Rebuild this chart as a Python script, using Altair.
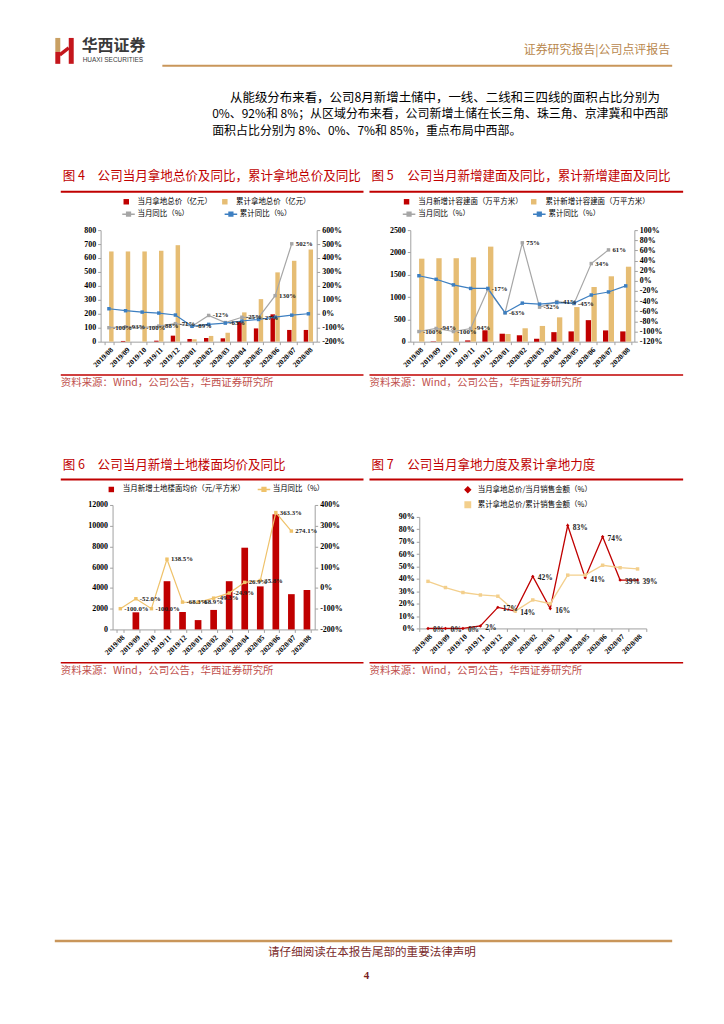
import altair as alt
import pandas as pd

CJK = "Noto Sans CJK SC"
NUMF = "Liberation Serif"
AXC = "#a0a0a0"
RED = "#c00000"
TAN = "#e6bd74"
GRAY = "#a6a6a6"
BLUE = "#3d7fc1"
F6LINE = "#efc26a"
F7TAN = "#f3cf8c"
TITLE_RED = "#c00000"
SRC_RED = "#c0504d"
GOLD = "#c9965a"

months = ["2019/08", "2019/09", "2019/10", "2019/11", "2019/12", "2020/01", "2020/02",
          "2020/03", "2020/04", "2020/05", "2020/06", "2020/07", "2020/08"]

# ---- Figure 4 ----
f4_bar_names = ["当月拿地总价（亿元）", "累计拿地总价（亿元）"]
f4_line_names = ["当月同比（%）", "累计同比（%）"]
f4_month_total = [0, 5, 0, 7, 43, 19, 26, 24, 143, 95, 196, 84, 84]
f4_cum_total = [647, 647, 647, 652, 692, 17, 41, 64, 210, 305, 497, 580, 661]
f4_month_yoy = [-100, -93, -100, -88, -71, -89, -12, -63, -25, -27, 130, 502, None]
f4_cum_yoy = [36, 22, 12, 5, -9, -90, -76, -67, -52, -41, -24, -10, 0]
f4_left_ticks = [0, 100, 200, 300, 400, 500, 600, 700, 800]
f4_right_ticks = [-200, -100, 0, 100, 200, 300, 400, 500, 600]

# ---- Figure 5 ----
f5_bar_names = ["当月新增计容建面（万平方米）", "累计新增计容建面（万平方米）"]
f5_line_names = ["当月同比（%）", "累计同比（%）"]
f5_month_area = [0, 8, 0, 28, 255, 178, 143, 67, 213, 230, 482, 252, 230]
f5_cum_area = [1860, 1870, 1870, 1890, 2130, 172, 300, 352, 545, 775, 1225, 1465, 1680]
f5_month_yoy = [-100, -94, -100, -94, -17, -63, 75, -52, -41, -45, 34, 61, None]
f5_cum_yoy = [10, 3, -8, -15, -15, -63, -44, -46, -43, -44, -28, -22, -10]
f5_left_ticks = [0, 500, 1000, 1500, 2000, 2500]
f5_right_ticks = [-120, -100, -80, -60, -40, -20, 0, 20, 40, 60, 80, 100]

# ---- Figure 6 ----
f6_bar_names = ["当月新增土地楼面均价（元/平方米）"]
f6_line_names = ["当月同比（%）"]
f6_price = [0, 1650, 0, 4650, 1680, 900, 1880, 4650, 7880, 4150, 11100, 3400, 3800]
f6_yoy = [-100.0, -52.0, -100.0, 138.5, -68.3, -68.9, -49.3, -24.9, 26.9, 35.8, 363.3, 274.1, None]
f6_left_ticks = [0, 2000, 4000, 6000, 8000, 10000, 12000]
f6_right_ticks = [-200, -100, 0, 100, 200, 300, 400]

# ---- Figure 7 ----
f7_line_names = ["当月拿地总价/当月销售金额（%）", "累计拿地总价/累计销售金额（%）"]
f7_month = [0, 0, 0, 2, 17, 14, 42, 16, 83, 41, 74, 39, 39]
f7_cum = [38, 33, 29, 27, 26, 14, 23, 20, 43, 43, 51, 49, 48]
f7_ticks = [0, 10, 20, 30, 40, 50, 60, 70, 80, 90]

LINE_SQ = "M-2.3,0H2.3M-0.7,-0.7H0.7V0.7H-0.7Z"


def long_df(names, series_list):
    rows = []
    for name, vals in zip(names, series_list):
        for m, v in zip(months, vals):
            rows.append({"month": m, "series": name, "value": v})
    return pd.DataFrame(rows)


def make_legend(lx, ly, cols, colpad, loff, line):
    return alt.Legend(
        orient="none", legendX=lx, legendY=ly, columns=cols, title=None,
        labelFont=CJK, labelFontSize=7.5, labelColor="#000000", symbolSize=30,
        symbolType=LINE_SQ if line else "square",
        symbolStrokeWidth=1.4 if line else 0,
        labelOffset=loff, columnPadding=colpad, rowPadding=3,
    )


def xenc(p_inner):
    return alt.X(
        "month:N", sort=months, title=None,
        scale=alt.Scale(type="band", paddingInner=p_inner, paddingOuter=p_inner / 2),
        axis=alt.Axis(labelAngle=-45, labelFont=NUMF, labelFontSize=7.5, labelFontWeight="bold",
                      labelColor="#000000", tickBand="extent", domainColor=AXC, tickColor=AXC,
                      tickSize=3, labelPadding=1, labelOverlap=False),
    )


def yaxis(orient, ticks, pct):
    kw = dict(orient=orient, values=ticks, labelFont=NUMF, labelFontSize=8, labelFontWeight="bold",
              labelColor="#000000", domainColor=AXC, tickColor=AXC, tickSize=3, labelPadding=2,
              grid=False, title=None, labelOverlap=False)
    if pct:
        kw["labelExpr"] = "datum.value + '%'"
    else:
        kw["format"] = "d"
    return alt.Axis(**kw)


def bar_line_fig(bar_names, bar_series, bar_colors, line_names, line_series, line_colors,
                 label_vals, label_fmt, lticks, rticks, width, height, pinner, off_pad,
                 bar_leg, line_leg):
    x = xenc(pinner)
    yl = alt.Y("value:Q", scale=alt.Scale(domain=[lticks[0], lticks[-1]], nice=False, zero=False),
               axis=yaxis("left", lticks, False))
    yr = alt.Y("value:Q", scale=alt.Scale(domain=[rticks[0], rticks[-1]], nice=False, zero=False),
               axis=yaxis("right", rticks, True))
    enc = dict(x=x, y=yl, fill=alt.Fill("series:N", scale=alt.Scale(domain=bar_names, range=bar_colors),
                                        legend=bar_leg))
    if len(bar_names) > 1:
        enc["xOffset"] = alt.XOffset("series:N", sort=bar_names, scale=alt.Scale(paddingInner=off_pad))
    bars = alt.Chart(long_df(bar_names, bar_series)).mark_bar().encode(**enc)
    lines = alt.Chart(long_df(line_names, line_series)).mark_line(
        strokeWidth=1.2, point=alt.OverlayMarkDef(shape="square", size=12, filled=True)
    ).encode(x=x, y=yr, color=alt.Color("series:N", scale=alt.Scale(domain=line_names, range=line_colors),
                                        legend=line_leg))
    lab = pd.DataFrame({"month": months, "value": label_vals})
    lab = lab.dropna()
    lab["label"] = [label_fmt.format(v) for v in lab["value"]]
    labels = alt.Chart(lab).mark_text(
        align="left", baseline="middle", dx=4, font=NUMF, fontSize=6.8, fontWeight="bold", color="#222222"
    ).encode(x=x, y=yr, text="label:N")
    return alt.layer(bars, alt.layer(lines, labels)).resolve_scale(y="independent").properties(
        width=width, height=height)


fig4 = bar_line_fig(f4_bar_names, [f4_month_total, f4_cum_total], [RED, TAN],
                    f4_line_names, [f4_month_yoy, f4_cum_yoy], [GRAY, BLUE],
                    f4_month_yoy, "{:.0f}%", f4_left_ticks, f4_right_ticks,
                    217, 112, 0.44, 0.08,
                    make_legend(22, -32.6, 2, 9, 7.5, False),
                    make_legend(24.3, -20, 2, 31.8, 5.2, True))

fig5 = bar_line_fig(f5_bar_names, [f5_month_area, f5_cum_area], [RED, TAN],
                    f5_line_names, [f5_month_yoy, f5_cum_yoy], [GRAY, BLUE],
                    f5_month_yoy, "{:.0f}%", f5_left_ticks, f5_right_ticks,
                    225, 112, 0.36, 0.06,
                    make_legend(-7.5, -32.6, 2, 6.7, 8, False),
                    make_legend(-5, -20, 2, 59.8, 5.5, True))

fig6 = bar_line_fig(f6_bar_names, [f6_price], [RED],
                    f6_line_names, [f6_yoy], [F6LINE],
                    f6_yoy, "{:.1f}%", f6_left_ticks, f6_right_ticks,
                    203, 125, 0.57, 0.0,
                    make_legend(-5, -19.3, 1, 5, 7.8, False),
                    make_legend(148.3, -19.3, 1, 5, 5, True))

# Figure 7: two lines, one axis
f7_colors = [RED, F7TAN]
f7_scale = alt.Scale(domain=f7_line_names, range=f7_colors)
x7 = xenc(0.0)
y7 = alt.Y("value:Q", scale=alt.Scale(domain=[0, 90], nice=False), axis=yaxis("left", f7_ticks, True))
df7 = long_df(f7_line_names, [f7_month, f7_cum])
l7 = alt.Chart(df7).mark_line(strokeWidth=1.3).encode(
    x=x7, y=y7, color=alt.Color("series:N", scale=f7_scale, legend=make_legend(45, -31, 1, 5, 6.2, True)))
p7 = alt.Chart(df7).mark_point(filled=True, size=12, opacity=1).encode(
    x=x7, y=y7, fill=alt.Fill("series:N", scale=f7_scale, legend=None),
    shape=alt.Shape("series:N", scale=alt.Scale(domain=f7_line_names, range=["diamond", "square"]), legend=None))
lab7 = pd.DataFrame({"month": months, "value": f7_month})
lab7["label"] = [f"{v:.0f}%" for v in f7_month]
t7 = alt.Chart(lab7).mark_text(align="left", baseline="middle", dx=5, dy=2, font=NUMF, fontSize=7.5,
                               fontWeight="bold", color="#222222").encode(x=x7, y=y7, text="label:N")
fig7 = alt.layer(l7, p7, t7).properties(width=228, height=112)

# ---- page decorations ----
one = pd.DataFrame({"k": [0]})
OX, OY = 8, 8


def txt(s, x, y, size, color="#000000", font=CJK, weight="normal", align="left"):
    return alt.Chart(one).mark_text(text=s, align=align, baseline="middle", fontSize=size, font=font,
                                    color=color, fontWeight=weight).encode(
        x=alt.value(x - OX), y=alt.value(y - OY))


def hline(x1, x2, y, color, w):
    return alt.Chart(one).mark_rule(color=color, strokeWidth=w).encode(
        x=alt.value(x1 - OX), x2=alt.value(x2 - OX), y=alt.value(y - OY))


def seg(x1, y1, x2, y2, color, w):
    return alt.Chart(one).mark_rule(color=color, strokeWidth=w).encode(
        x=alt.value(x1 - OX), x2=alt.value(x2 - OX), y=alt.value(y1 - OY), y2=alt.value(y2 - OY))


SRC = "资料来源：Wind，公司公告，华西证券研究所"
parts = [
    seg(55, 36, 55, 50, "#c9a063", 5),
    seg(55, 50, 55, 62, "#c4161c", 5),
    seg(68.5, 36, 68.5, 62, "#c4161c", 5),
    seg(57, 53, 66, 46, "#c4161c", 3.5),
    txt("华西证券", 79, 44, 16, "#3a3a3a", weight="bold"),
    txt("HUAXI SECURITIES", 80, 58, 6.5, "#3a3a3a", font="Liberation Sans"),
    txt("证券研究报告|公司点评报告", 670, 48, 12, "#b8874d", align="right"),
    hline(160, 672, 64, GOLD, 2),
    txt("从能级分布来看，公司8月新增土储中，一线、二线和三四线的面积占比分别为", 228, 96, 12.5),
    txt("0%、92%和 8%；从区域分布来看，公司新增土储在长三角、珠三角、京津冀和中西部", 210, 112.5, 12.0),
    txt("面积占比分别为 8%、0%、7%和 85%，重点布局中西部。", 210, 129.5, 12.0),
    txt("图 4", 60, 175, 12.6, TITLE_RED),
    txt("公司当月拿地总价及同比，累计拿地总价及同比", 95, 175, 12.6, TITLE_RED),
    txt("图 5", 370, 175, 12.6, TITLE_RED),
    txt("公司当月新增建面及同比，累计新增建面及同比", 406, 175, 12.6, TITLE_RED),
    hline(58, 362, 190.5, TITLE_RED, 2),
    hline(368, 683, 190.5, TITLE_RED, 2),
    hline(58, 362, 374.5, TITLE_RED, 1.5),
    hline(368, 683, 374.5, TITLE_RED, 1.5),
    txt(SRC, 58, 383, 10.5, SRC_RED),
    txt(SRC, 368, 383, 10.5, SRC_RED),
    txt("图 6", 60, 465, 12.6, TITLE_RED),
    txt("公司当月新增土地楼面均价及同比", 95, 465, 12.6, TITLE_RED),
    txt("图 7", 370, 465, 12.6, TITLE_RED),
    txt("公司当月拿地力度及累计拿地力度", 406, 465, 12.6, TITLE_RED),
    hline(58, 362, 479.5, TITLE_RED, 2),
    hline(368, 683, 479.5, TITLE_RED, 2),
    hline(58, 362, 663.5, TITLE_RED, 1.5),
    hline(368, 683, 663.5, TITLE_RED, 1.5),
    txt(SRC, 58, 672, 10.5, SRC_RED),
    txt(SRC, 368, 672, 10.5, SRC_RED),
    hline(52, 672, 943, GOLD, 2.5),
    txt("请仔细阅读在本报告尾部的重要法律声明", 370.5, 955, 11.6, "#7a2a2a", align="center"),
    txt("4", 365, 978, 11, "#7b1f1f", font=NUMF, weight="bold", align="center"),
]
canvas = alt.layer(*parts).properties(width=708, height=221)


def spacer(w, h):
    return alt.Chart(one).mark_point(opacity=0).encode(x=alt.value(0), y=alt.value(0)).properties(
        width=w, height=h)


RS = dict(color="independent", fill="independent", xOffset="independent", shape="independent")
RL = dict(color="independent", fill="independent", shape="independent")

row1 = alt.hconcat(spacer(90, 112), fig4, spacer(94, 112), fig5, spacing=0, bounds="flush"
                   ).resolve_scale(**RS).resolve_legend(**RL)
col7 = alt.vconcat(spacer(228, 12), fig7, spacing=0, bounds="flush").resolve_scale(**RS).resolve_legend(**RL)
row2 = alt.hconcat(spacer(102, 125), fig6, spacer(105, 125), col7, spacing=0, bounds="flush"
                   ).resolve_scale(**RS).resolve_legend(**RL)

# nested concat groups take no room in a flush layout, so the gap spacer covers row 1 as well
chart = alt.vconcat(canvas, row1, spacer(10, 276), row2, spacing=0, bounds="flush"
                    ).resolve_scale(**RS).resolve_legend(**RL).properties(
    padding=0, background="white").configure_view(stroke=None)

chart.save("out.html", embed_options={"renderer": "svg", "actions": False})
